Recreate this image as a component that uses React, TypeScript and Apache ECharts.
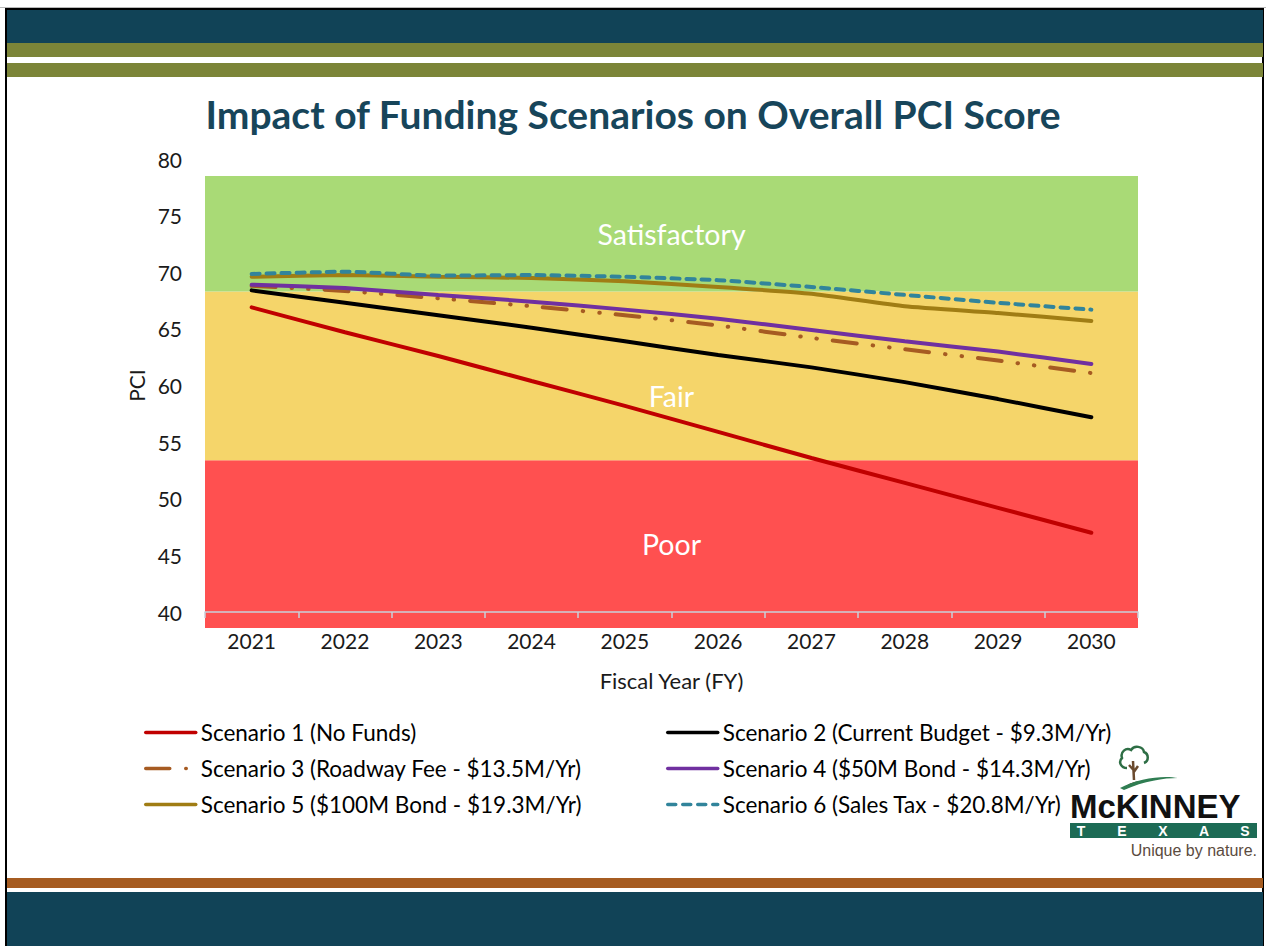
import React, { useEffect, useRef } from "react";
import * as echarts from "echarts";

const years = ["2021", "2022", "2023", "2024", "2025", "2026", "2027", "2028", "2029", "2030"];
const seriesNames = [
  "Scenario 1 (No Funds)",
  "Scenario 2 (Current Budget - $9.3M/Yr)",
  "Scenario 3 (Roadway Fee - $13.5M/Yr)",
  "Scenario 4 ($50M Bond - $14.3M/Yr)",
  "Scenario 5 ($100M Bond - $19.3M/Yr)",
  "Scenario 6 (Sales Tax - $20.8M/Yr)",
];
const scenario1 = [66.9, 64.7, 62.6, 60.4, 58.2, 55.9, 53.6, 51.4, 49.2, 47.0];
const scenario2 = [68.4, 67.3, 66.2, 65.1, 63.9, 62.7, 61.6, 60.3, 58.8, 57.2];
const scenario3 = [68.8, 68.35, 67.7, 67.0, 66.2, 65.3, 64.2, 63.2, 62.2, 61.1];
const scenario4 = [68.9, 68.6, 68.0, 67.4, 66.7, 65.9, 64.9, 63.9, 63.0, 61.9];
const scenario5 = [69.6, 69.75, 69.6, 69.5, 69.2, 68.7, 68.1, 67.0, 66.4, 65.7];
const scenario6 = [69.85, 70.05, 69.7, 69.75, 69.6, 69.3, 68.7, 68.0, 67.3, 66.7];

const bandNames = ["Poor", "Fair", "Satisfactory"];
const bandEdges = [38.6, 53.4, 68.3, 78.5];
const yMin = 40;
const yMax = 80;
const yStep = 5;
const texasLetters = ["T", "E", "X", "A", "S"];

const FONT = "Lato, 'Open Sans', sans-serif";
const LOGO_FONT = "'Liberation Sans', Arial, sans-serif";

const canopyPath =
  "M9 22 C3 22 0 16 4 12 C2 6 8 1 13 4 C16 -1 25 0 26 6 C31 8 31 15 26 17";
const trunkPath = "M15 15 L16 34 M15.5 24 L11 19 M15.8 26 L20 20";
const swooshPath = "M2 42 C20 32 46 29 60 32 C46 32 26 35 6 44 Z";
const groundPath = "M6 42 C11 37 17 35 23 35 C16 37 11 40 8 43 Z";

echarts.graphic.registerShape("canopy", echarts.graphic.extendPath(canopyPath, {}));
echarts.graphic.registerShape("trunk", echarts.graphic.extendPath(trunkPath, {}));
echarts.graphic.registerShape("swoosh", echarts.graphic.extendPath(swooshPath, {}));
echarts.graphic.registerShape("ground", echarts.graphic.extendPath(groundPath, {}));

export default function App() {
  const ref = useRef<HTMLDivElement>(null);
  useEffect(() => {
    if (!ref.current) return;
    const chart = echarts.init(ref.current, undefined, { renderer: "svg" });
    const bandColors = ["#FF5050", "#F5D56A", "#A9DA76"];
    const bandLabelOffsets = [[0, 0], [0, 20], [0, 0]];
    const lineSpecs = [
      { data: scenario1, color: "#C00000", type: "solid" as any },
      { data: scenario2, color: "#000000", type: "solid" as any },
      { data: scenario3, color: "#A65B22", type: [24, 16, 0.5, 16, 0.5, 16] as any },
      { data: scenario4, color: "#7030A0", type: "solid" as any },
      { data: scenario5, color: "#A07D14", type: "solid" as any },
      { data: scenario6, color: "#31849B", type: [8, 7] as any },
    ];
    const legendCommon = {
      orient: "vertical",
      top: 721,
      padding: 0,
      itemWidth: 50,
      itemHeight: 12,
      itemGap: 13,
      itemStyle: { opacity: 0 },
      lineStyle: { width: 3.5 },
      textStyle: { fontFamily: FONT, fontSize: 22.5, color: "#000", lineHeight: 23 },
    };
    const option: any = {
      animation: false,
      backgroundColor: "#ffffff",
      title: {
        text: "Impact of Funding Scenarios on Overall PCI Score",
        left: "center",
        top: 89,
        textStyle: { fontFamily: FONT, fontWeight: "bold", fontSize: 39, color: "#17455A" },
      },
      legend: [
        { ...legendCommon, data: [seriesNames[0], seriesNames[2], seriesNames[4]], left: 144 },
        { ...legendCommon, data: [seriesNames[1], seriesNames[3], seriesNames[5]], left: 666 },
      ],
      grid: [
        { left: 205, width: 933, top: 159, height: 453 },
        { left: 205, width: 933, top: 176, height: 452 },
      ],
      xAxis: [
        {
          type: "category",
          gridIndex: 0,
          data: years,
          boundaryGap: true,
          z: 5,
          axisLine: { show: true, lineStyle: { color: "#C9D0DA", width: 1.5 } },
          axisTick: { show: true, length: 6, lineStyle: { color: "#C9D0DA", width: 1.5 } },
          axisLabel: { fontFamily: FONT, fontSize: 21, color: "#1a1a1a", margin: 18 },
          name: "Fiscal Year (FY)",
          nameLocation: "middle",
          nameGap: 57,
          nameTextStyle: { fontFamily: FONT, fontSize: 22, color: "#1a1a1a" },
        },
        {
          type: "category",
          gridIndex: 1,
          data: years,
          boundaryGap: true,
          show: false,
        },
      ],
      yAxis: [
        {
          type: "value",
          gridIndex: 0,
          min: yMin,
          max: yMax,
          interval: yStep,
          axisLine: { show: false },
          axisTick: { show: false },
          splitLine: { show: false },
          axisLabel: { fontFamily: FONT, fontSize: 21, color: "#1a1a1a", margin: 23 },
          name: "PCI",
          nameLocation: "middle",
          nameGap: 58,
          nameRotate: 90,
          nameTextStyle: { fontFamily: FONT, fontSize: 21, color: "#1a1a1a" },
        },
        {
          type: "value",
          gridIndex: 1,
          min: bandEdges[0],
          max: bandEdges[3],
          show: false,
          splitLine: { show: false },
        },
      ],
      series: [
        {
          type: "line",
          name: "bands",
          xAxisIndex: 1,
          yAxisIndex: 1,
          z: 1,
          data: years.map(() => null),
          symbol: "none",
          silent: true,
          markArea: {
            silent: true,
            data: bandNames.map((n, i) => [
              {
                name: n,
                yAxis: bandEdges[i],
                itemStyle: { color: bandColors[i], opacity: 1 },
                label: {
                  show: true,
                  position: "inside",
                  offset: bandLabelOffsets[i],
                  color: "#ffffff",
                  fontFamily: FONT,
                  fontSize: 28.5,
                },
              },
              { yAxis: bandEdges[i + 1] },
            ]),
          },
        },
        ...lineSpecs.map((s, i) => ({
          type: "line",
          name: seriesNames[i],
          xAxisIndex: 0,
          yAxisIndex: 0,
          z: 3,
          data: s.data,
          symbol: "none",
          smooth: 0.15,
          color: s.color,
          lineStyle: { color: s.color, width: 4, type: s.type, cap: "round" },
        })),
      ],
      graphic: [
        { type: "rect", z: 0, shape: { x: 0, y: 7, width: 1266, height: 1 }, style: { fill: "#B8B8B8" } },
        { type: "rect", z: 0, shape: { x: 6, y: 9, width: 1257, height: 940 }, style: { fill: "none", stroke: "#000", lineWidth: 2 } },
        { type: "rect", z: 0, shape: { x: 7, y: 10, width: 1256, height: 33 }, style: { fill: "#114357" } },
        { type: "rect", z: 0, shape: { x: 7, y: 43, width: 1256, height: 14 }, style: { fill: "#7C8538" } },
        { type: "rect", z: 0, shape: { x: 7, y: 63, width: 1256, height: 14 }, style: { fill: "#7C8538" } },
        { type: "rect", z: 0, shape: { x: 7, y: 878, width: 1256, height: 10 }, style: { fill: "#A65C21" } },
        { type: "rect", z: 0, shape: { x: 7, y: 892, width: 1256, height: 54 }, style: { fill: "#114357" } },
        {
          type: "group",
          x: 1118,
          y: 746,
          children: [
            { type: "canopy", style: { fill: "none", stroke: "#2E6E45", lineWidth: 2.5 } },
            { type: "trunk", style: { fill: "none", stroke: "#6B4A2E", lineWidth: 2.5 } },
            { type: "ground", style: { fill: "#5A3E28" } },
            { type: "swoosh", style: { fill: "#2F7D52" } },
          ],
        },
        {
          type: "text",
          x: 1070,
          y: 806,
          style: {
            text: "McKINNEY",
            fontFamily: LOGO_FONT,
            fontWeight: "bold",
            fontSize: 33,
            fill: "#111",
            verticalAlign: "middle",
            align: "left",
          },
        },
        { type: "rect", shape: { x: 1070, y: 823, width: 187, height: 15 }, style: { fill: "#1D6B55" } },
        ...texasLetters.map((ch, i) => ({
          type: "text",
          x: 1081 + i * 41,
          y: 831,
          style: {
            text: ch,
            fontFamily: LOGO_FONT,
            fontWeight: "bold",
            fontSize: 14,
            fill: "#fff",
            align: "center",
            verticalAlign: "middle",
          },
        })),
        {
          type: "text",
          x: 1257,
          y: 850,
          style: {
            text: "Unique by nature.",
            fontFamily: LOGO_FONT,
            fontSize: 16,
            fill: "#5B4B3E",
            align: "right",
            verticalAlign: "middle",
          },
        },
      ],
    };
    chart.setOption(option);
    return () => chart.dispose();
  }, []);
  return (
    <div
      ref={ref}
      style={{ position: "absolute", left: 0, top: 0, width: 1266, height: 946 }}
    />
  );
}
